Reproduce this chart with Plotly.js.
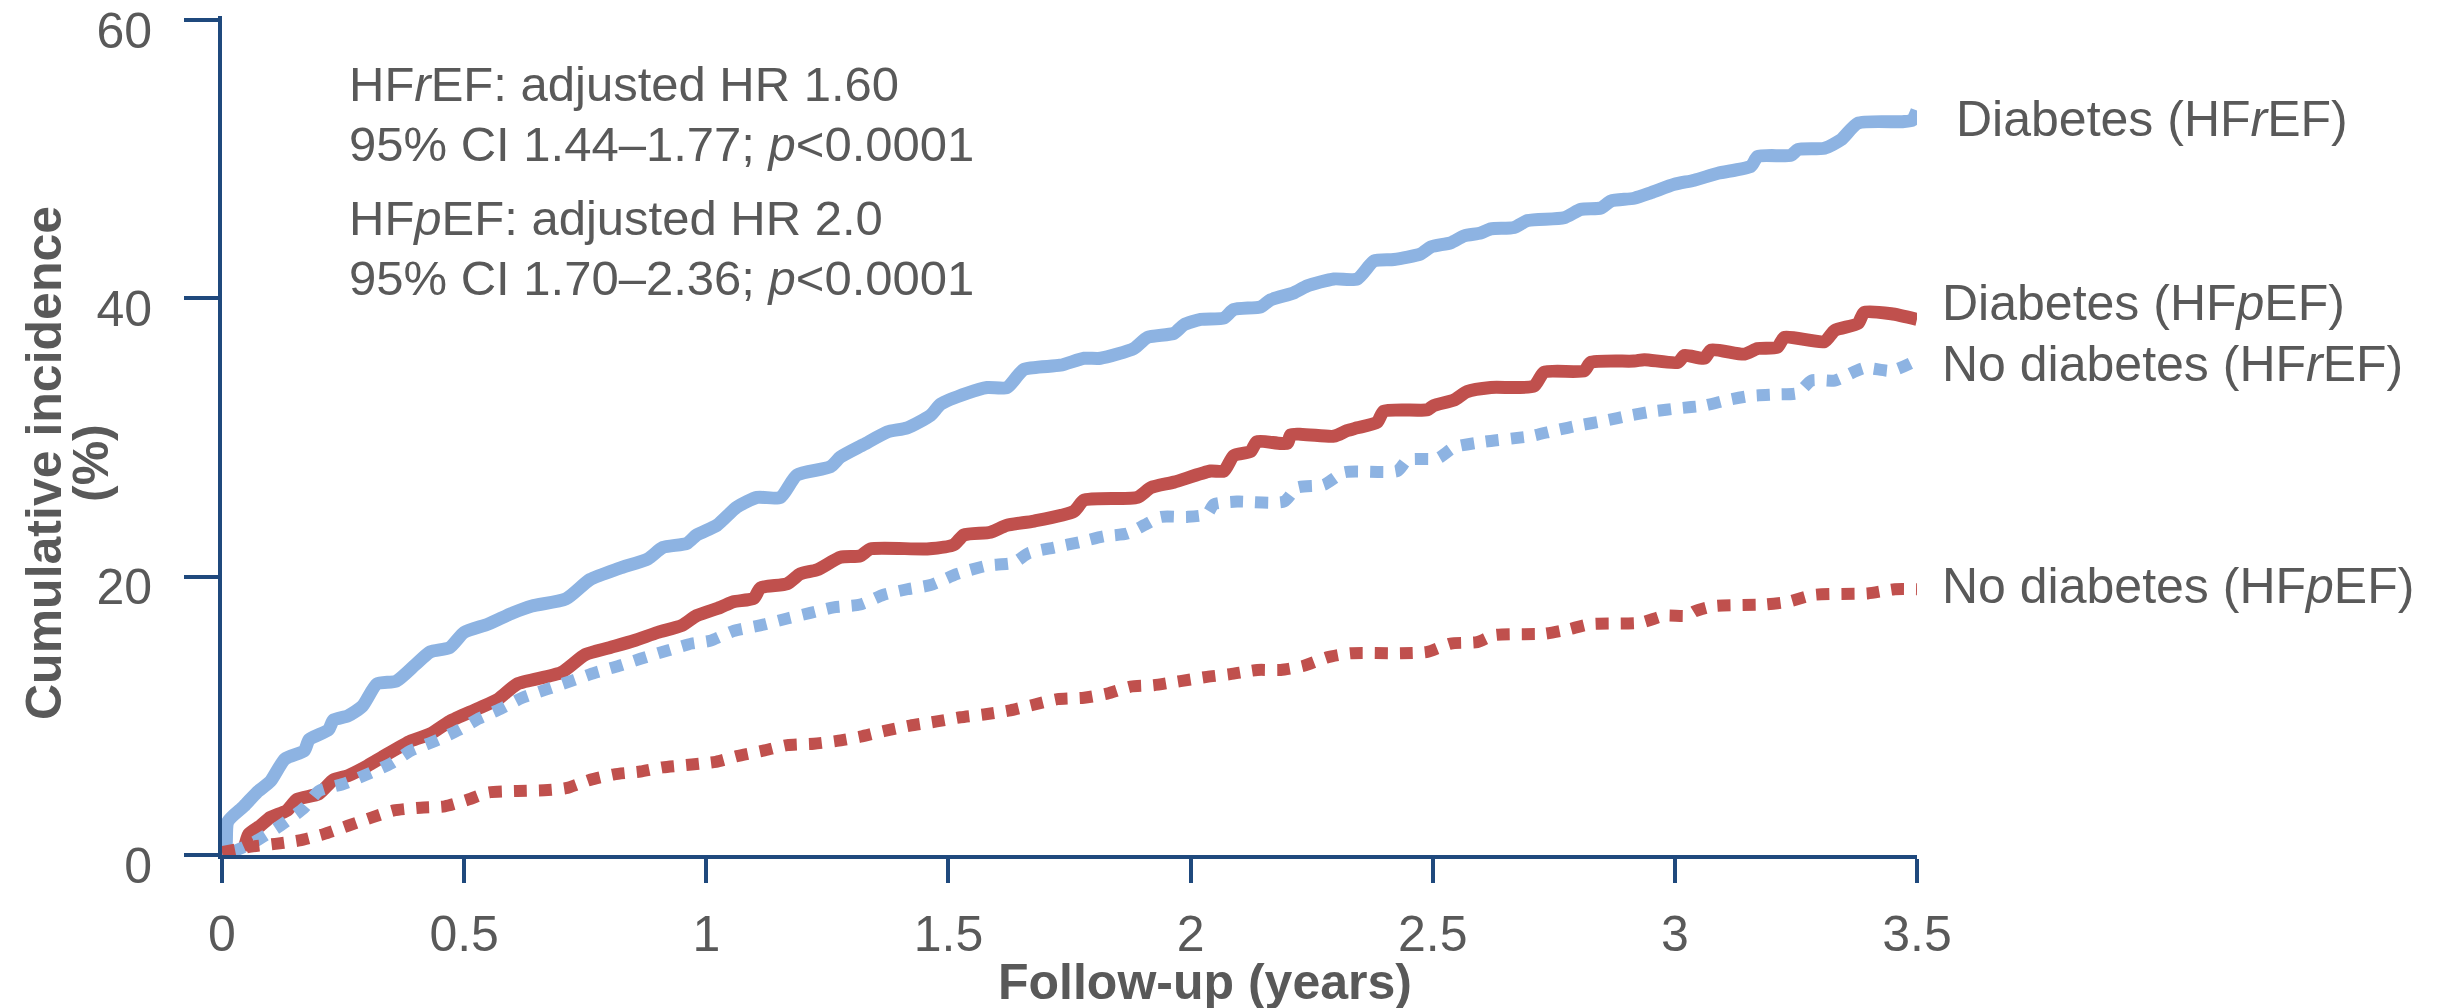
<!DOCTYPE html>
<html>
<head>
<meta charset="utf-8">
<script src="https://cdn.plot.ly/plotly-3.0.1.min.js"></script>
<style>html,body{margin:0;padding:0;background:#fff;}#chart{width:2453px;height:1008px;}</style>
</head>
<body>
<div id="chart"></div>
<script>
// ---- Data ----
const tDiabHFrEF = [0,0.008,0.012,0.045,0.072,0.10,0.13,0.17,0.18,0.22,0.23,0.26,0.29,0.32,0.36,0.40,0.43,0.47,0.50,0.55,0.60,0.64,0.71,0.76,0.82,0.88,0.91,0.96,0.98,1.022,1.063,1.105,1.153,1.187,1.256,1.277,1.325,1.373,1.415,1.463,1.484,1.539,1.580,1.621,1.656,1.731,1.780,1.814,1.883,1.911,1.966,1.986,2.021,2.069,2.089,2.145,2.165,2.213,2.241,2.296,2.344,2.379,2.420,2.475,2.496,2.537,2.565,2.599,2.620,2.668,2.696,2.771,2.806,2.847,2.868,2.916,2.951,2.999,3.040,3.089,3.157,3.171,3.240,3.254,3.309,3.343,3.378,3.470,3.490,3.500];
const incDiabHFrEF = [0,0.5,2.4,3.5,4.5,5.3,6.9,7.5,8.3,9.0,9.7,10.0,10.7,12.3,12.5,13.7,14.6,14.9,16.0,16.6,17.4,17.9,18.4,19.8,20.6,21.3,22.1,22.4,23.0,23.7,25.0,25.7,25.7,27.3,27.9,28.6,29.5,30.4,30.7,31.6,32.4,33.2,33.6,33.6,34.9,35.2,35.7,35.7,36.4,37.2,37.5,38.1,38.5,38.6,39.2,39.4,39.9,40.4,40.9,41.4,41.4,42.7,42.8,43.2,43.7,44.0,44.5,44.7,45.0,45.1,45.6,45.8,46.4,46.5,47.0,47.2,47.6,48.2,48.5,49.0,49.5,50.2,50.3,50.7,50.8,51.4,52.6,52.7,52.8,53.5];

const tDiabHFpEF = [0.045,0.055,0.079,0.10,0.134,0.155,0.20,0.23,0.26,0.30,0.334,0.39,0.43,0.47,0.527,0.57,0.61,0.70,0.75,0.80,0.85,0.90,0.95,0.98,1.029,1.056,1.098,1.112,1.167,1.194,1.229,1.277,1.318,1.339,1.456,1.511,1.532,1.587,1.621,1.677,1.759,1.780,1.890,1.918,1.966,2.041,2.069,2.089,2.124,2.137,2.200,2.207,2.296,2.323,2.344,2.385,2.399,2.489,2.502,2.544,2.571,2.620,2.709,2.730,2.813,2.826,2.916,2.937,3.006,3.020,3.061,3.075,3.144,3.171,3.212,3.226,3.309,3.330,3.378,3.391,3.447,3.500];
const incDiabHFpEF = [0.3,1.5,2.1,2.7,3.2,4.0,4.4,5.4,5.7,6.4,7.1,8.2,8.7,9.6,10.5,11.2,12.3,13.1,14.4,14.9,15.4,16.0,16.5,17.2,17.8,18.2,18.45,19.2,19.5,20.2,20.5,21.4,21.5,22.0,22.0,22.3,23.0,23.2,23.7,24.0,24.7,25.5,25.7,26.4,26.8,27.6,27.6,28.7,29.0,29.7,29.6,30.2,30.1,30.5,30.7,31.1,31.9,32.0,32.3,32.7,33.3,33.6,33.7,34.7,34.8,35.4,35.5,35.6,35.4,35.9,35.7,36.3,36.0,36.4,36.5,37.2,36.9,37.7,38.2,39.0,38.9,38.5];

const tNoDiabHFrEF = [0.02,0.065,0.12,0.17,0.20,0.25,0.30,0.35,0.39,0.44,0.49,0.53,0.575,0.62,0.67,0.72,0.77,0.82,0.864,0.92,0.97,1.008,1.056,1.111,1.167,1.215,1.263,1.318,1.366,1.415,1.463,1.518,1.580,1.635,1.666,1.718,1.773,1.821,1.869,1.904,1.938,1.993,2.034,2.048,2.096,2.193,2.220,2.275,2.317,2.427,2.448,2.510,2.544,2.606,2.702,2.751,2.806,2.854,2.909,2.958,3.006,3.061,3.109,3.157,3.212,3.254,3.282,3.330,3.391,3.447,3.495,3.500];
const incNoDiabHFrEF = [0.2,0.9,2.1,3.4,4.6,5.1,5.8,6.6,7.5,8.2,9.0,9.8,10.5,11.3,11.9,12.5,13.1,13.6,14.1,14.7,15.2,15.4,16.1,16.5,17.0,17.4,17.8,18.0,18.7,19.1,19.4,20.2,20.8,21.0,21.7,22.1,22.5,22.9,23.1,23.7,24.3,24.3,24.5,25.2,25.4,25.4,26.4,26.6,27.5,27.6,28.4,28.5,29.3,29.7,30.1,30.5,30.9,31.2,31.6,31.9,32.1,32.3,32.7,33.0,33.1,33.2,34.1,34.1,35.0,34.8,35.5,35.7];

const tNoDiabHFpEF = [0,0.06,0.11,0.16,0.21,0.26,0.31,0.355,0.41,0.46,0.51,0.55,0.61,0.665,0.71,0.76,0.81,0.864,0.91,0.97,1.02,1.063,1.118,1.167,1.222,1.270,1.318,1.366,1.421,1.476,1.525,1.573,1.628,1.676,1.725,1.780,1.828,1.876,1.924,1.979,2.034,2.082,2.138,2.186,2.234,2.282,2.330,2.434,2.489,2.537,2.592,2.627,2.730,2.778,2.826,2.930,2.978,3.027,3.040,3.082,3.185,3.233,3.288,3.398,3.454,3.500];
const incNoDiabHFpEF = [0.2,0.6,0.8,1.05,1.5,2.1,2.7,3.2,3.4,3.5,4.0,4.5,4.6,4.65,4.8,5.4,5.8,6.0,6.3,6.5,6.7,7.1,7.5,7.9,8.0,8.2,8.5,8.9,9.3,9.6,9.9,10.1,10.4,10.8,11.2,11.3,11.6,12.1,12.2,12.5,12.8,13.0,13.3,13.3,13.6,14.2,14.5,14.5,14.6,15.2,15.3,15.8,15.9,16.2,16.6,16.7,17.2,17.2,17.5,17.9,18.0,18.2,18.7,18.8,19.1,19.1];

const seriesNames = ['Diabetes (HF<i>r</i>EF)','Diabetes (HF<i>p</i>EF)','No diabetes (HF<i>r</i>EF)','No diabetes (HF<i>p</i>EF)'];
const labelY = [52.9, 39.7, 35.3, 19.3];

const xTickVals = [0,0.5,1,1.5,2,2.5,3,3.5];
const xTickLabels = ['0','0.5','1','1.5','2','2.5','3','3.5'];
const yTickVals = [0,20,40,60];
const yTickLabels = ['0','20','40','60'];

const statLines = [
  'HF<i>r</i>EF: adjusted HR 1.60',
  '95% CI 1.44–1.77; <i>p</i>&lt;0.0001',
  'HF<i>p</i>EF: adjusted HR 2.0',
  '95% CI 1.70–2.36; <i>p</i>&lt;0.0001'
];

// ---- Layout / style ----
const W = 2453, H = 1008;
const YMAX = 60.3;
const L = 222, R = 536, T = 16, B = 153;
const PW = W - L - R, PH = H - T - B;
const px2x = p => (p - L) / PW;
const px2y = p => (T + PH - p) / PH;

const BLUE = '#8DB3E2', RED = '#C0504D', AXIS = '#1F497D', TXT = '#595959';
const FONT = 'Liberation Sans, Arial, sans-serif';
const DOTS = '13px,12px';

const traces = [
  {x: tDiabHFrEF, y: incDiabHFrEF, line: {color: BLUE, width: 13}},
  {x: tDiabHFpEF, y: incDiabHFpEF, line: {color: RED, width: 13}},
  {x: tNoDiabHFrEF, y: incNoDiabHFrEF, line: {color: BLUE, width: 12, dash: DOTS}},
  {x: tNoDiabHFpEF, y: incNoDiabHFpEF, line: {color: RED, width: 12, dash: DOTS}}
].map(t => {
  t.mode = 'lines'; t.hoverinfo = 'skip'; t.showlegend = false;
  t.line.shape = 'spline'; t.line.smoothing = 0.6;
  return t;
});

const annotations = [];
const statY = [84, 144, 218, 278];
statLines.forEach((s, i) => annotations.push({
  xref: 'paper', yref: 'paper', x: px2x(347), y: px2y(statY[i]),
  xanchor: 'left', yanchor: 'middle', showarrow: false, text: s,
  font: {family: FONT, size: 49, color: TXT}
}));
const labelShift = [37, 23, 23, 23];
seriesNames.forEach((s, i) => annotations.push({
  xref: 'x', yref: 'y', x: 3.5, y: labelY[i], xshift: labelShift[i],
  xanchor: 'left', yanchor: 'middle', showarrow: false, text: s,
  font: {family: FONT, size: 50, color: TXT}
}));
annotations.push({
  xref: 'paper', yref: 'paper', x: px2x(1205), y: px2y(982),
  xanchor: 'center', yanchor: 'middle', showarrow: false,
  text: '<b>Follow-up (years)</b>', font: {family: FONT, size: 50, color: TXT}
});
annotations.push({
  xref: 'paper', yref: 'paper', x: px2x(44), y: px2y(463),
  xanchor: 'center', yanchor: 'middle', showarrow: false, textangle: -90,
  text: '<b>Cumulative incidence</b>', font: {family: FONT, size: 50, color: TXT}
});
annotations.push({
  xref: 'paper', yref: 'paper', x: px2x(91), y: px2y(463),
  xanchor: 'center', yanchor: 'middle', showarrow: false, textangle: -90,
  text: '<b>(%)</b>', font: {family: FONT, size: 50, color: TXT}
});

const layout = {
  width: W, height: H,
  margin: {l: L, r: R, t: T, b: B, pad: 0},
  paper_bgcolor: '#ffffff', plot_bgcolor: '#ffffff',
  font: {family: FONT, color: TXT},
  xaxis: {
    range: [0, 3.5], tickvals: xTickVals, ticktext: xTickLabels,
    showline: true, linecolor: AXIS, linewidth: 4, mirror: false,
    ticks: 'outside', ticklen: 24, tickwidth: 4, tickcolor: AXIS,
    showgrid: false, zeroline: false, ticklabelstandoff: 8,
    ticklabeloverflow: 'allow',
    tickfont: {family: FONT, size: 50, color: TXT}
  },
  yaxis: {
    range: [0, YMAX], tickvals: yTickVals, ticktext: yTickLabels,
    showline: true, linecolor: AXIS, linewidth: 4,
    ticks: 'outside', ticklen: 34, tickwidth: 4, tickcolor: AXIS,
    showgrid: false, zeroline: false, ticklabelstandoff: 22,
    ticklabeloverflow: 'allow', ticklabelshift: 10,
    tickfont: {family: FONT, size: 50, color: TXT}
  },
  annotations: annotations,
  showlegend: false
};

Plotly.newPlot('chart', traces, layout, {displayModeBar: false, staticPlot: true});
</script>
</body>
</html>
